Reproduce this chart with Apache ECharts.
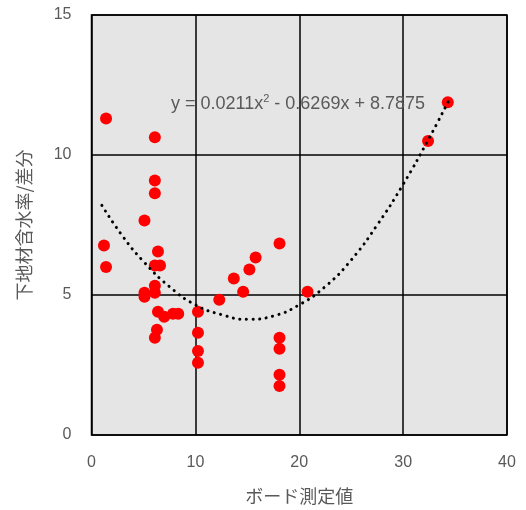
<!DOCTYPE html>
<html>
<head>
<meta charset="utf-8">
<script src="https://cdn.jsdelivr.net/npm/echarts@6/dist/echarts.min.js"></script>
<style>
  html, body { margin: 0; padding: 0; background: #fff; }
  #main { width: 526px; height: 510px; }
</style>
</head>
<body>
<div id="main"></div>
<script>
// 測定データ（ボード測定値, 下地材含水率/差分）
var boardValues = [1.4, 6.1, 6.1, 6.1, 5.1, 1.2, 6.4, 1.4, 6.1, 6.6, 6.1, 5.1, 5.1, 6.1, 6.4, 7.0, 7.85, 8.35, 6.3, 6.1,
  10.25, 10.25, 10.25, 10.25, 12.3, 13.7, 14.6, 15.2, 15.8, 18.1, 18.1, 18.1, 18.1, 18.1, 20.8, 32.4, 34.3];
var moistureValues = [11.3, 10.63, 9.09, 8.63, 7.66, 6.77, 6.55, 6.0, 6.05, 6.05, 5.33, 5.08, 4.94, 5.08, 4.4, 4.22, 4.33, 4.33, 3.76, 3.47,
  4.4, 3.65, 3.0, 2.58, 4.83, 5.59, 5.12, 5.91, 6.34, 6.84, 3.47, 3.08, 2.15, 1.75, 5.12, 10.5, 11.88];

// 近似曲線（図から読み取った点）
var trendX = [1, 3, 5, 7.5, 10, 12.5, 15, 17.5, 20, 22.5, 25, 27.5, 30, 32.5, 34.4];
var trendY = [8.2, 7.1, 6.2, 5.3, 4.65, 4.3, 4.13, 4.25, 4.65, 5.3, 6.25, 7.5, 8.95, 10.6, 11.95];

var xTicks = [0, 10, 20, 30, 40];
var yTicks = [0, 5, 10, 15];

var myChart = echarts.init(document.getElementById('main'));

var points = boardValues.map(function (v, i) { return [v, moistureValues[i]]; });
var trend = trendX.map(function (v, i) { return [v, trendY[i]]; });

var labelFont = {
  color: '#595959',
  fontSize: 16,
  fontFamily: 'Liberation Sans, Noto Sans CJK JP, sans-serif'
};

var option = {
  animation: false,
  grid: {
    left: 91.5, right: 19, top: 15, bottom: 75,
    show: true,
    backgroundColor: '#e5e5e5',
    borderColor: '#000',
    borderWidth: 1.5
  },
  xAxis: {
    type: 'value',
    min: xTicks[0], max: xTicks[xTicks.length - 1], interval: 10,
    name: 'ボード測定値',
    nameLocation: 'middle',
    nameGap: 52,
    nameTextStyle: { color: '#595959', fontSize: 18, fontFamily: 'Noto Sans CJK JP, sans-serif' },
    axisLine: { show: false },
    axisTick: { show: false },
    axisLabel: Object.assign({ margin: 20 }, labelFont),
    splitLine: { show: true, lineStyle: { color: '#000', width: 1.5 } }
  },
  yAxis: {
    type: 'value',
    min: yTicks[0], max: yTicks[yTicks.length - 1], interval: 5,
    name: '下地材含水率/差分',
    nameLocation: 'middle',
    nameGap: 58,
    nameTextStyle: { color: '#595959', fontSize: 18, fontFamily: 'Noto Sans CJK JP, sans-serif' },
    axisLine: { show: false },
    axisTick: { show: false },
    axisLabel: Object.assign({ margin: 20 }, labelFont),
    splitLine: { show: true, lineStyle: { color: '#000', width: 1.5 } }
  },
  graphic: [{
    type: 'text',
    left: 171,
    top: 93,
    style: {
      text: '{a|y = 0.0211x}{s|2}{a| - 0.6269x + 8.7875}',
      rich: {
        a: { fontSize: 18, fill: '#595959', fontFamily: 'Liberation Sans, sans-serif', verticalAlign: 'bottom' },
        s: { fontSize: 11, fill: '#595959', fontFamily: 'Liberation Sans, sans-serif', verticalAlign: 'top', padding: [0, 0, 9, 0] }
      }
    },
    z: 10
  }],
  series: [
    {
      type: 'scatter',
      data: points,
      symbol: 'circle',
      symbolSize: 12,
      itemStyle: { color: '#ff0000', opacity: 1 },
      z: 2
    },
    {
      type: 'line',
      data: trend,
      smooth: true,
      showSymbol: false,
      lineStyle: { color: '#000', width: 3, type: [0.1, 6.5], cap: 'round' },
      z: 3
    }
  ]
};

myChart.setOption(option);
</script>
</body>
</html>
